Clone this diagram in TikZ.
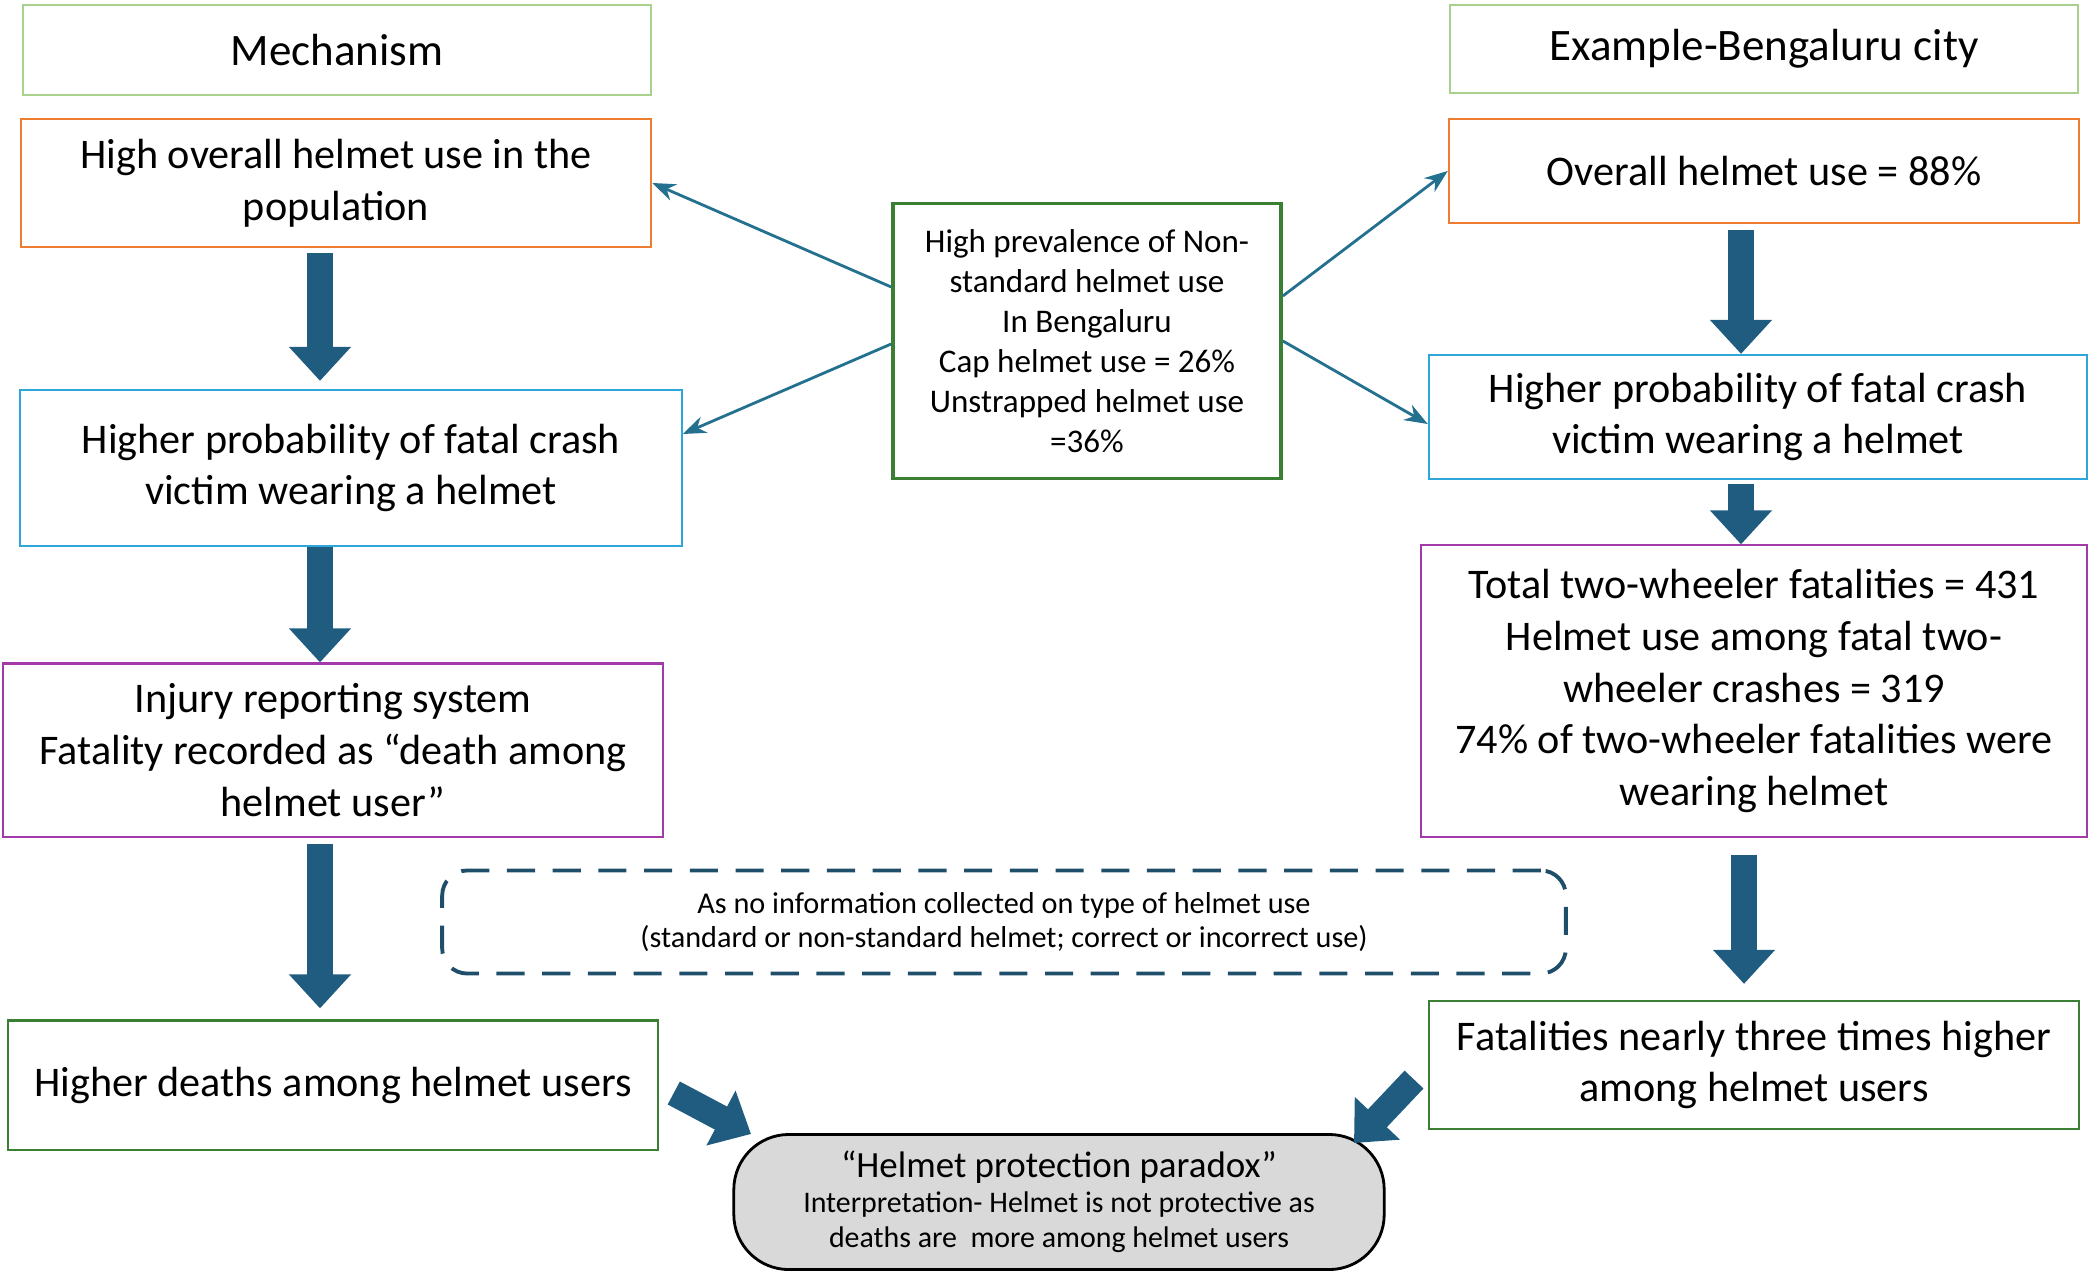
\documentclass[tikz,border=0pt]{standalone}
\usepackage{fontspec}
\setmainfont{Carlito}
\usepackage{tikz}
\usetikzlibrary{arrows.meta}
\tikzset {>=Stealth}
\definecolor{titlegreen}{HTML}{A9D18E}
\definecolor{boxorange}{HTML}{ED7D31}
\definecolor{boxblue}{HTML}{2EA6DA}
\definecolor{boxpurple}{HTML}{A23BA9}
\definecolor{boxgreen}{HTML}{3B7F35}
\definecolor{arrowblue}{HTML}{1F5C80}
\definecolor{linkblue}{HTML}{24708F}
\definecolor{dashblue}{HTML}{1F4E6B}
\definecolor{paradoxgray}{HTML}{D9D9D9}
\tikzset{
  box/.style={draw, line width=0.6pt, fill=white, align=center, inner sep=2pt,
    font=\fontsize{12}{14.7}\selectfont},
  titlebox/.style={box, draw=titlegreen, font=\fontsize{12.8}{15}\selectfont},
  bigarrow/.style={arrowblue, line width=0.26cm, -{Triangle[length=0.34cm,width=0.6cm]}},
  link/.style={linkblue, line width=0.8pt, ->},
}

\begin{document}
\begin{tikzpicture}[x=0.01cm,y=-0.01cm]
\useasboundingbox (0,0) rectangle (2092,1276);

% column headers
\node[titlebox, minimum width=6.28cm, minimum height=0.9cm] (mech) at (337,50) {Mechanism};
\node[titlebox, minimum width=6.27cm, minimum height=0.88cm] (exmp) at (1764,49) {Example-Bengaluru city};

% left column
\node[box, draw=boxorange, minimum width=6.3cm, minimum height=1.28cm] (hiuse) at (336,183)
  {High overall helmet use in the\\population};
\node[box, draw=boxblue, minimum width=6.61cm, minimum height=1.56cm] (probL) at (351,468)
  {Higher probability of fatal crash\\victim wearing a helmet};
\node[box, draw=boxpurple, minimum width=6.59cm, minimum height=1.73cm] (reportL) at (333,750)
  {Injury reporting system\\Fatality recorded as “death among\\helmet user”};
\node[box, draw=boxgreen, minimum width=6.49cm, minimum height=1.29cm] (deathL) at (333,1085)
  {Higher deaths among helmet users};

% right column
\node[box, draw=boxorange, minimum width=6.3cm, minimum height=1.04cm] (alluse) at (1764,171)
  {Overall helmet use = 88\%};
\node[box, draw=boxblue, minimum width=6.58cm, minimum height=1.24cm] (probR) at (1758,417)
  {Higher probability of fatal crash\\victim wearing a helmet};
\node[box, draw=boxpurple, minimum width=6.65cm, minimum height=2.91cm] (fatalR) at (1754,691)
  {Total two-wheeler fatalities = 431\\Helmet use among fatal two-\\wheeler crashes = 319\\74\% of two-wheeler fatalities were\\wearing helmet};
\node[box, draw=boxgreen, minimum width=6.5cm, minimum height=1.28cm] (deathR) at (1754,1065)
  {Fatalities nearly three times higher\\among helmet users};

% middle
\node[box, draw=boxgreen, line width=1pt, minimum width=3.88cm, minimum height=2.75cm,
  font=\fontsize{9.4}{11.4}\selectfont] (nonstd) at (1087,341)
  {High prevalence of Non-\\standard helmet use\\In Bengaluru\\Cap helmet use = 26\%\\Unstrapped helmet use\\=36\%};
\node[draw=dashblue, line width=1.1pt, dash pattern=on 8pt off 5pt, rounded corners=0.25cm,
  minimum width=11.23cm, minimum height=1.03cm, align=center,
  font=\fontsize{8.6}{9.8}\selectfont] (noinfo) at (1004,922)
  {As no information collected on type of helmet use\\(standard or non-standard helmet; correct or incorrect use)};
\node[draw=black, fill=paradoxgray, line width=0.8pt, rounded corners=0.55cm,
  minimum width=6.5cm, minimum height=1.35cm, align=center,
  font=\fontsize{8.5}{10}\selectfont] (paradox) at (1059,1202)
  {{\fontsize{10.5}{10}\selectfont “Helmet protection paradox”}\\Interpretation- Helmet is not protective as\\deaths are\ \ more among helmet users};

% thick arrows
\coordinate (colL) at (320,0);
\coordinate (colR) at (1741,0);
\coordinate (colR2) at (1744,0);
\coordinate (inL) at (751,1134);
\coordinate (inR) at (1354,1143);
\draw[bigarrow, shorten <=0.05cm, shorten >=0.08cm] (hiuse.south -| colL) -- (probL.north -| colL);
\draw[bigarrow] (probL.south -| colL) -- (reportL.north -| colL);
\draw[bigarrow, shorten <=0.06cm, shorten >=0.11cm] (reportL.south -| colL) -- (deathL.north -| colL);
\draw[bigarrow, shorten <=0.06cm] (alluse.south -| colR) -- (probR.north -| colR);
\draw[bigarrow, shorten <=0.04cm] (probR.south -| colR) -- (fatalR.north -| colR);
\draw[bigarrow, shorten <=0.17cm, shorten >=0.16cm] (fatalR.south -| colR2) -- (deathR.north -| colR2);
\draw[bigarrow, shorten <=0.17cm] (deathL.east) -- (inL);
\draw[bigarrow, shorten <=0.2cm] (deathR.west) -- (inR);

% thin arrows
\draw[link] ([yshift=0.54cm]nonstd.west) -- (hiuse.east);
\draw[link] ([yshift=-0.03cm]nonstd.west) -- ([yshift=0.34cm]probL.east);
\draw[link] ([yshift=0.45cm]nonstd.east) -- (alluse.west);
\draw[link] (nonstd.east) -- ([yshift=-0.07cm]probR.west);
\end{tikzpicture}
\end{document}
